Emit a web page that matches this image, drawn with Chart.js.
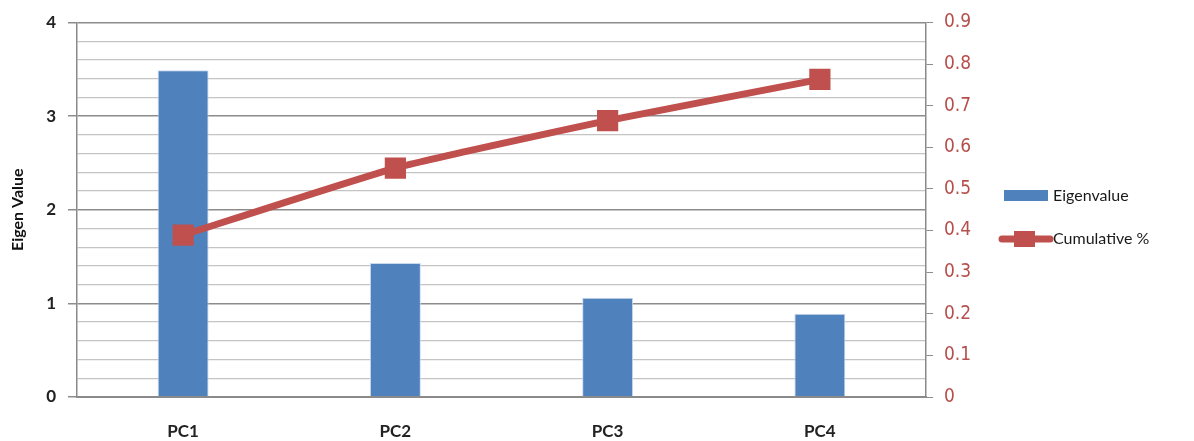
<!DOCTYPE html>
<html>
<head>
<meta charset="utf-8">
<script src="https://cdn.jsdelivr.net/npm/chart.js@4"></script>
<style>
  html, body { margin: 0; padding: 0; background: #ffffff; }
  #wrap { width: 1194px; height: 441px; position: relative; }
</style>
</head>
<body>
<div id="wrap"><canvas id="c" width="1194" height="441"></canvas></div>
<script>
// Principal components and their values
const categories = ['PC1', 'PC2', 'PC3', 'PC4'];
const eigenvalues = [3.49, 1.43, 1.06, 0.89];
const cumulative = [0.389, 0.550, 0.664, 0.763];
const leftTicks = [0, 1, 2, 3, 4];
const rightTicks = [0, 0.1, 0.2, 0.3, 0.4, 0.5, 0.6, 0.7, 0.8, 0.9];

const BLUE = '#4f81bd';
const RED = '#c0504d';
const RIGHT_LABEL = '#b5504d';

// Legend drawn at the right side, with a bar swatch and a line+marker swatch
const sideLegend = {
  id: 'sideLegend',
  afterDraw(chart) {
    const ctx = chart.ctx;
    const ds = chart.data.datasets;
    ctx.save();
    ctx.font = '16px Lato, "Liberation Sans", sans-serif';
    ctx.textBaseline = 'middle';
    // bar item
    ctx.fillStyle = ds[0].backgroundColor;
    ctx.fillRect(1004, 190, 44, 11);
    ctx.fillStyle = '#1a1a1a';
    ctx.fillText(ds[0].label, 1053, 196);
    // line item
    ctx.strokeStyle = ds[1].borderColor;
    ctx.lineWidth = 7;
    ctx.lineCap = 'round';
    ctx.beginPath();
    ctx.moveTo(1002, 239);
    ctx.lineTo(1050, 239);
    ctx.stroke();
    ctx.fillStyle = ds[1].pointBackgroundColor;
    ctx.fillRect(1014, 231, 21, 16);
    ctx.fillStyle = '#1a1a1a';
    ctx.fillText(ds[1].label, 1053, 239);
    ctx.restore();
  }
};

const isInt = v => Math.abs(v - Math.round(v)) < 1e-6;

new Chart(document.getElementById('c'), {
  data: {
    labels: categories,
    datasets: [
      {
        type: 'bar',
        label: 'Eigenvalue',
        data: eigenvalues,
        backgroundColor: BLUE,
        borderColor: '#c9d9ee',
        borderWidth: 1,
        barPercentage: 0.24,
        categoryPercentage: 1.0,
        yAxisID: 'y',
        order: 2
      },
      {
        type: 'line',
        label: 'Cumulative %',
        data: cumulative,
        borderColor: RED,
        borderWidth: 7,
        pointStyle: 'rect',
        pointRadius: 15,
        pointBackgroundColor: RED,
        pointBorderColor: RED,
        pointBorderWidth: 0,
        tension: 0.15,
        yAxisID: 'y1',
        order: 1
      }
    ]
  },
  plugins: [sideLegend],
  options: {
    responsive: false,
    animation: false,
    devicePixelRatio: 1,
    layout: { padding: { top: 16, left: 0, right: 0, bottom: 0 } },
    plugins: {
      legend: { display: false },
      tooltip: { enabled: false }
    },
    scales: {
      x: {
        grid: { display: false, drawTicks: false },
        border: { display: true, color: '#8a8a8a', width: 2 },
        ticks: {
          color: '#222222',
          padding: 24,
          font: { family: 'Lato, "Liberation Sans", sans-serif', size: 17, weight: 'bold' }
        },
        afterFit(s) { s.height = 44; }
      },
      y: {
        position: 'left',
        min: 0,
        max: 4,
        ticks: {
          stepSize: 0.2,
          autoSkip: false,
          padding: 12,
          color: '#222222',
          font: { family: 'Lato, "Liberation Sans", sans-serif', size: 17, weight: 'bold' },
          callback: v => isInt(v) ? String(Math.round(v)) : ''
        },
        grid: {
          color: ctx => isInt(ctx.tick.value) ? '#8c8c8c' : '#c4c4c4',
          lineWidth: ctx => isInt(ctx.tick.value) ? 1.5 : 1.2,
          tickLength: 9,
          tickColor: ctx => isInt(ctx.tick.value) ? '#8c8c8c' : 'rgba(0,0,0,0)'
        },
        border: { display: true, color: '#8a8a8a', width: 1.5 },
        title: {
          display: true,
          text: 'Eigen Value',
          color: '#111111',
          padding: { top: 8, bottom: 6 },
          font: { family: 'Lato, "Liberation Sans", sans-serif', size: 16, weight: 'bold' }
        },
        afterFit(s) { s.width = 77; }
      },
      y1: {
        position: 'right',
        min: 0,
        max: 0.9,
        ticks: {
          stepSize: 0.1,
          autoSkip: false,
          padding: 11,
          color: RIGHT_LABEL,
          font: { family: '"Liberation Sans Narrow", "DejaVu Sans Condensed", "Liberation Sans", sans-serif', size: 19 },
          callback: v => (Math.round(v * 10) / 10).toString()
        },
        grid: {
          drawOnChartArea: false,
          tickLength: 7,
          tickColor: '#8c8c8c'
        },
        border: { display: true, color: '#8a8a8a', width: 1.5 },
        afterFit(s) { s.width = 268; }
      }
    }
  }
});
</script>
</body>
</html>
